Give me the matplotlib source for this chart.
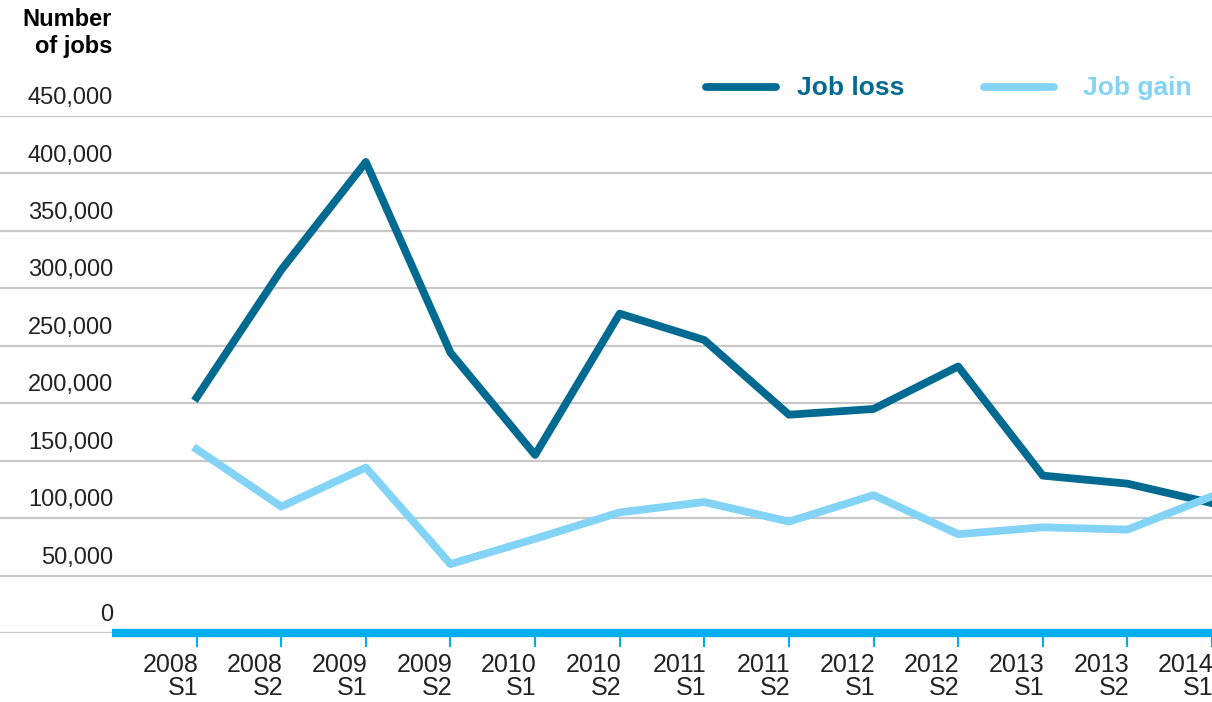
import matplotlib.pyplot as plt

plt.rcParams['font.family'] = ['Liberation Sans', 'DejaVu Sans']

# periods
periods = ["2008\nS1", "2008\nS2", "2009\nS1", "2009\nS2", "2010\nS1", "2010\nS2", "2011\nS1",
           "2011\nS2", "2012\nS1", "2012\nS2", "2013\nS1", "2013\nS2", "2014\nS1"]

# series values
job_loss = [205000, 316000, 410000, 244000, 155000, 278000, 255000,
            190000, 195000, 232000, 137000, 130000, 113000]
job_gain = [160000, 110000, 144000, 60000, 82000, 105000, 114000,
            97000, 120000, 86000, 92000, 90000, 119000]

y_ticks = [0, 50000, 100000, 150000, 200000, 250000, 300000, 350000, 400000, 450000]

loss_color = "#006a91"
gain_color = "#82d3f5"
zero_color = "#00aeef"
grid_color = "#c8c8c8"

fig = plt.figure(figsize=(12.12, 7.02), dpi=100)
# axes cover the full width so gridlines run to the left edge
ax = fig.add_axes([0, 69 / 702, 1, 517 / 702])

x = list(range(len(periods)))
step = 84.6
left = -1 - 112 / step
ax.set_xlim(left, 12)
ax.set_ylim(0, 450000)

# gridlines and y labels
for v in y_ticks:
    ax.axhline(v, color=grid_color, lw=1.6, zorder=1)
    ax.text(-1 + 1 / step, v + 6000, f"{v:,}", ha="right", va="bottom",
            fontsize=17, color="#222222")

# zero baseline
ax.plot([-1, 12], [0, 0], color=zero_color, lw=6, solid_capstyle="butt",
        zorder=3, clip_on=False)
for xi in x:
    ax.plot([xi, xi], [0, -11000], color=zero_color, lw=1.5, clip_on=False, zorder=3)
    ax.text(xi + 0.02, -17500, periods[xi], ha="right", va="top", fontsize=18,
            color="#222222", linespacing=0.92, multialignment="right")

# series
ax.plot(x, job_loss, color=loss_color, lw=5.6, zorder=4, clip_on=False)
ax.plot(x, job_gain, color=gain_color, lw=5.6, zorder=4, clip_on=False)

for s in ax.spines.values():
    s.set_visible(False)
ax.set_xticks([])
ax.set_yticks([])

# axis title
fig.text(112 / 1212, 1 - 8 / 702, "Number\nof jobs", ha="right", va="top",
         fontsize=17, fontweight="bold", linespacing=1.25, multialignment="right")

# legend
fig.add_artist(plt.Line2D([706 / 1212, 776 / 1212], [1 - 87 / 702] * 2,
                          color=loss_color, lw=5.6, solid_capstyle="round"))
fig.text(797 / 1212, 1 - 88 / 702, "Job loss", ha="left", va="center",
         fontsize=19, fontweight="bold", color=loss_color)
fig.add_artist(plt.Line2D([984 / 1212, 1054 / 1212], [1 - 87 / 702] * 2,
                          color=gain_color, lw=5.6, solid_capstyle="round"))
fig.text(1083 / 1212, 1 - 88 / 702, "Job gain", ha="left", va="center",
         fontsize=19, fontweight="bold", color=gain_color)

fig.savefig("out.png", dpi=100)
